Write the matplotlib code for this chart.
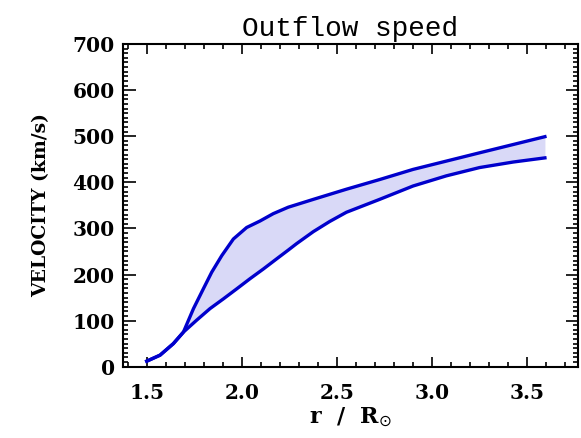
import matplotlib
matplotlib.use("Agg")
import matplotlib.pyplot as plt
from matplotlib.ticker import MultipleLocator
import numpy as np

# Data
r_upper = [1.50, 1.570, 1.640, 1.693, 1.746, 1.798, 1.842, 1.895, 1.956, 2.026, 2.096,
           2.166, 2.245, 2.377, 2.551, 2.726, 2.902, 3.077, 3.252, 3.429, 3.596]
v_upper = [12, 25, 50, 75, 126, 169, 205, 241, 277, 302, 316,
           332, 346, 363, 385, 406, 428, 446, 464, 482, 499]

r_lower = [1.50, 1.570, 1.640, 1.693, 1.763, 1.833, 1.903, 1.974, 2.044, 2.114, 2.184,
           2.245, 2.289, 2.377, 2.463, 2.551, 2.726, 2.902, 3.077, 3.252, 3.429, 3.596]
v_lower = [12, 25, 50, 75, 101, 126, 147, 169, 191, 212, 234,
           253, 267, 293, 315, 335, 363, 392, 414, 432, 444, 453]

x_ticks = [1.5, 2.0, 2.5, 3.0, 3.5]
y_ticks = [0, 100, 200, 300, 400, 500, 600, 700]

fig = plt.figure(figsize=(5.81, 4.38), dpi=100)
ax = fig.add_axes([0.2117, 0.1628, 0.7831, 0.7367])

blue = "#0000CC"
grid = np.union1d(r_upper, r_lower)
up_i = np.interp(grid, r_upper, v_upper)
low_i = np.interp(grid, r_lower, v_lower)
ax.fill_between(grid, low_i, up_i, color="#D9D9F7", lw=0)
ax.plot(r_upper, v_upper, color=blue, lw=2.4, solid_joinstyle="round")
ax.plot(r_lower, v_lower, color=blue, lw=2.4, solid_joinstyle="round")

ax.set_xlim(1.375, 3.77)
ax.set_ylim(0, 700)
ax.set_xticks(x_ticks)
ax.set_yticks(y_ticks)
ax.xaxis.set_minor_locator(MultipleLocator(0.1))
ax.yaxis.set_minor_locator(MultipleLocator(10))
ax.tick_params(which="both", direction="in", top=True, right=True, width=1.2, color="black")
ax.tick_params(which="major", length=7)
ax.tick_params(which="minor", length=3.5)
ax.tick_params(axis="y", which="major", length=9, pad=6)
ax.tick_params(axis="x", which="major", pad=12)

font = dict(family="DejaVu Serif", weight="bold")
ax.set_xticklabels([f"{v:.1f}" for v in x_ticks], **font, fontsize=14.5)
ax.set_yticklabels([str(v) for v in y_ticks], **font, fontsize=14.5)
for s in ax.spines.values():
    s.set_linewidth(1.5)

ax.set_title("Outflow speed", family="Liberation Mono", fontsize=20, pad=6)
ax.set_xlabel(r"r  /  R$_{\odot}$", family="DejaVu Serif", weight="bold", fontsize=16, labelpad=2)
ax.set_ylabel("VELOCITY (km/s)", family="DejaVu Serif", weight="bold", fontsize=13.5, labelpad=16)

fig.savefig("out.png", dpi=100)
